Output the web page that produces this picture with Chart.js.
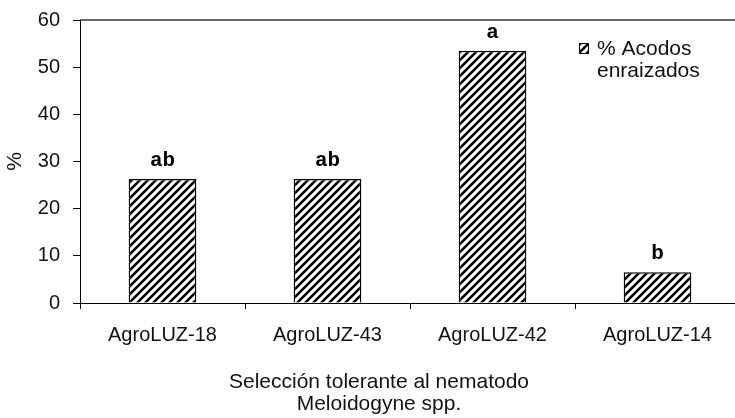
<!DOCTYPE html>
<html>
<head>
<meta charset="utf-8">
<script src="https://cdn.jsdelivr.net/npm/chart.js@4"></script>
<style>
	html, body { margin: 0; padding: 0; background: #fff; overflow: hidden; }
	#caixa { width: 745px; height: 418px; position: relative; }
</style>
</head>
<body>
<div id="caixa"><canvas id="grafico"></canvas></div>
<script>
// dados
const categorias = ["AgroLUZ-18", "AgroLUZ-43", "AgroLUZ-42", "AgroLUZ-14"];
const valores = [26.3, 26.3, 53.5, 6.5];
const letras = ["ab", "ab", "a", "b"];
const legenda = ["% Acodos", "enraizados"];
const tituloX = ["Selección tolerante al nematodo", "Meloidogyne spp."];

const FONTE = "Arial, 'Liberation Sans', sans-serif";

// hachura diagonal "/"
function hachura() {
	const c = document.createElement("canvas");
	c.width = c.height = 8;
	const p = c.getContext("2d");
	p.fillStyle = "#fff";
	p.fillRect(0, 0, 8, 8);
	p.strokeStyle = "#000";
	p.lineWidth = 2.6;
	p.beginPath();
	p.moveTo(-2, 10); p.lineTo(10, -2);
	p.moveTo(-2, 2); p.lineTo(2, -2);
	p.moveTo(6, 10); p.lineTo(10, 6);
	p.stroke();
	return p.createPattern(c, "repeat");
}

const ctx = document.getElementById("grafico").getContext("2d");
const padrao = hachura();

const extras = {
	id: "extras",
	afterDatasetsDraw(chart) {
		const c = chart.ctx;
		const a = chart.chartArea;
		c.save();

		// linha superior da área do gráfico
		c.strokeStyle = "#333";
		c.lineWidth = 1.5;
		c.beginPath();
		c.moveTo(a.left, a.top);
		c.lineTo(a.right, a.top);
		c.stroke();

		// letras de significância
		c.fillStyle = "#000";
		c.font = "bold 21px \"Liberation Mono\", \"Courier New\", monospace";
		c.textAlign = "center";
		c.textBaseline = "alphabetic";
		chart.getDatasetMeta(0).data.forEach((bar, i) => {
			c.fillText(letras[i], bar.x, bar.y - 13);
		});

		// legenda
		c.fillStyle = padrao;
		c.fillRect(579, 43, 9, 10);
		c.strokeStyle = "#000";
		c.lineWidth = 1;
		c.strokeRect(579.5, 43.5, 9, 10);
		c.fillStyle = "#111";
		c.font = "21px " + FONTE;
		c.textAlign = "left";
		c.fillText(legenda[0], 597, 55);
		c.fillText(legenda[1], 597, 77);

		// título do eixo x
		c.textAlign = "center";
		c.fillText(tituloX[0], 379, 388);
		c.fillText(tituloX[1], 379, 410);

		c.restore();
	},
};

new Chart(ctx, {
	type: "bar",
	data: {
		labels: categorias,
		datasets: [
			{
				label: legenda.join(" "),
				data: valores,
				backgroundColor: padrao,
				borderColor: "#000",
				borderWidth: 1.5,
				categoryPercentage: 1,
				barPercentage: 0.41,
			},
		],
	},
	options: {
		responsive: true,
		maintainAspectRatio: false,
		animation: false,
		layout: { padding: { top: 20, right: 5, bottom: 60, left: 0 } },
		plugins: {
			legend: { display: false },
			tooltip: { enabled: false },
		},
		scales: {
			x: {
				grid: { display: true, offset: true, drawOnChartArea: false, tickLength: 6, color: "#000" },
				border: { color: "#000", width: 1 },
				ticks: { color: "#111", font: { size: 20, family: FONTE }, padding: 14 },
				afterFit: (s) => { s.height = 55; s.paddingLeft = 0; s.paddingRight = 0; },
			},
			y: {
				min: 0,
				max: 60,
				ticks: { stepSize: 10, color: "#111", font: { size: 20, family: FONTE }, padding: 13 },
				grid: { display: true, drawOnChartArea: false, tickLength: 7, color: "#000" },
				border: { color: "#000", width: 1 },
				title: { display: true, text: "%", color: "#111", font: { size: 21, family: FONTE }, padding: { top: 3, bottom: 0 } },
				afterFit: (s) => { s.width = 80; s.paddingTop = 0; s.paddingBottom = 0; },
			},
		},
	},
	plugins: [extras],
});
</script>
</body>
</html>
